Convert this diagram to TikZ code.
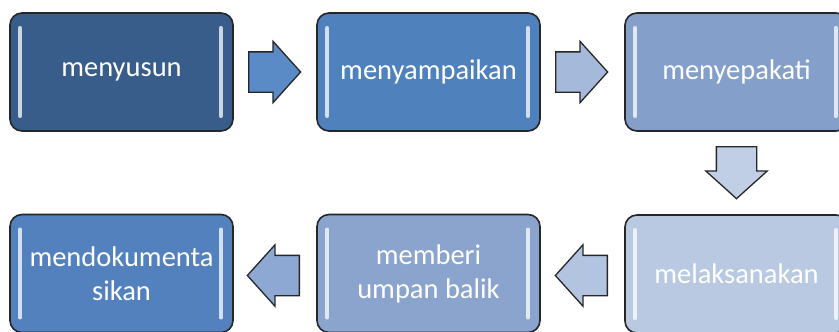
\documentclass[tikz,border=0pt]{standalone}
\usepackage{fontspec}
\setmainfont{Carlito}
\usetikzlibrary{shapes.arrows}
\definecolor{cA}{HTML}{385D8A}
\definecolor{cB}{HTML}{4F81BD}
\definecolor{cC}{HTML}{849FCA}
\definecolor{cD}{HTML}{B9C9E2}
\definecolor{cE}{HTML}{8AA4CD}
\definecolor{cF}{HTML}{5381BE}
\definecolor{aA}{HTML}{5B8BC6}
\definecolor{aB}{HTML}{A5BADB}
\definecolor{aC}{HTML}{C0CEE6}
\definecolor{aD}{HTML}{B3C4E0}
\definecolor{aE}{HTML}{8EA8D4}
\tikzset{
  stepbox/.style={draw=black!85, line width=1.6pt, rounded corners=12pt,
    fill=#1, text=white, align=center, minimum width=223pt, minimum height=118pt,
    inner sep=2pt, font=\fontsize{28.5}{34}\selectfont},
  barrow/.style={single arrow, draw=black!85, line width=1.3pt, fill=#1,
    minimum width=60pt, minimum height=52pt, inner xsep=0pt, inner ysep=19.5pt,
    single arrow head extend=10.5pt, single arrow tip angle=96, anchor=tail},
  hl/.style={line width=4pt, line cap=round, draw=#1!25!white},
}
\begin{document}
\begin{tikzpicture}[x=1pt,y=-1pt]
\useasboundingbox (0,0) rectangle (839,332);
\clip (0,0) rectangle (839,332);
\node[stepbox=cA] (b1) at (121.5,72) {menyusun};
\node[stepbox=cB] (b2) at (428.5,72) {menyampaikan};
\node[stepbox=cC] (b3) at (736.5,72) {menyepakati};
\node[stepbox=cD] (b4) at (736.5,274) {melaksanakan};
\node[stepbox=cE] (b5) at (428.5,273.5) {memberi\\umpan balik};
\node[stepbox=cF] (b6) at (121.5,273.5) {mendokumenta\\sikan};
% highlight bars
\foreach \b/\c in {b1/cA,b2/cB,b3/cC,b4/cD,b5/cE,b6/cF}{
  \draw[hl=\c] ([xshift=11pt,yshift=44pt]\b.west) -- ([xshift=11pt,yshift=-44pt]\b.west);
  \draw[hl=\c] ([xshift=-13pt,yshift=44pt]\b.east) -- ([xshift=-13pt,yshift=-44pt]\b.east);
}
% block arrows
\node[barrow=aA] (a1) at (248,72) {};
\node[barrow=aB] (a2) at (555,72) {};
\node[barrow=aC, rotate=-90] (a3) at (736.5,146) {};
\node[barrow=aD, rotate=180] (a4) at (608,275.5) {};
\node[barrow=aE, rotate=180] (a5) at (300,275.5) {};
\end{tikzpicture}
\end{document}
